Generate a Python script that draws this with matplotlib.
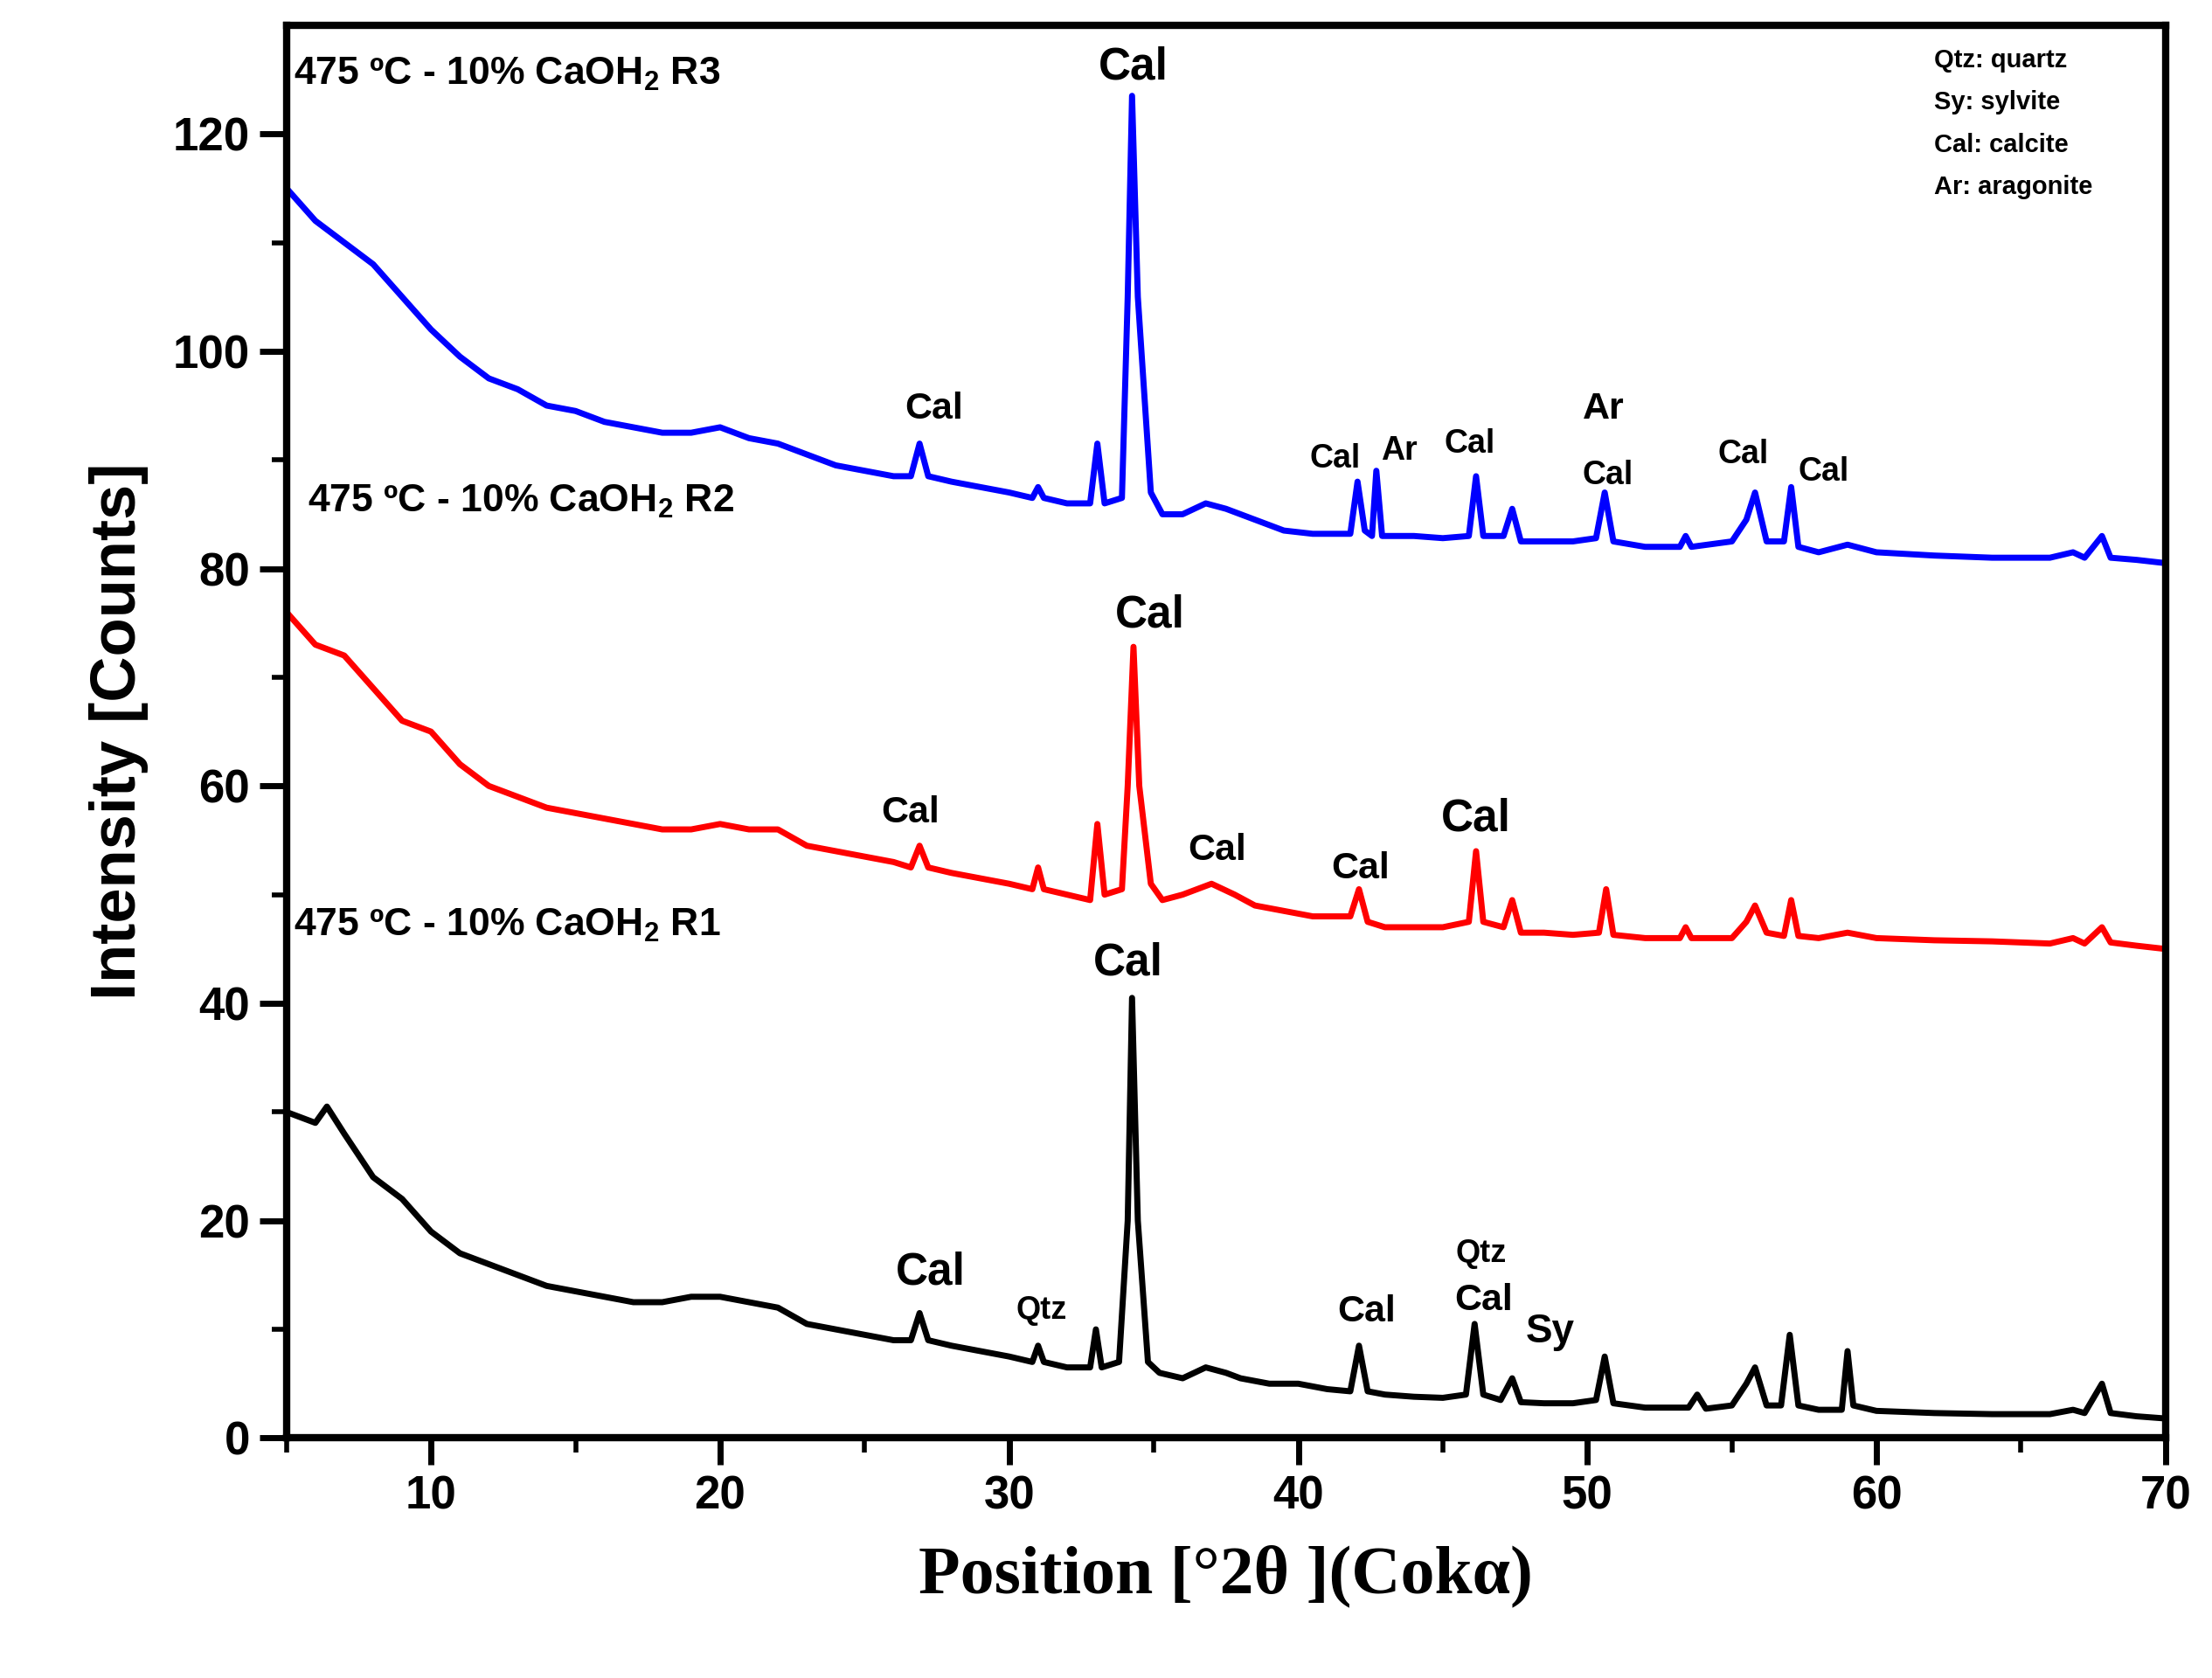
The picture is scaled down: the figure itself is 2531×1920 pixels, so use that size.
import matplotlib
matplotlib.use("Agg")
import matplotlib.pyplot as plt

plt.rcParams['font.family'] = 'Liberation Sans'
plt.rcParams['mathtext.fontset'] = 'custom'
plt.rcParams['mathtext.bf'] = 'Liberation Sans:bold'
plt.rcParams['mathtext.default'] = 'bf'

r1_x = [5,6,6.4,7,8,9,10,11,12,13,14,15,16,17,18,19,20,21,22,23,24,25,26,26.6,26.9,27.2,28,29,30,30.8,31,31.2,32,32.8,33.0,33.2,33.8,34.1,34.25,34.45,34.8,35.2,36,36.8,37.5,38,39,40,41,41.8,42.1,42.4,43,44,45,45.8,46.1,46.4,47,47.4,47.7,48.5,49.5,50.3,50.6,50.9,52,53.5,53.8,54.1,55,55.5,55.8,56.2,56.7,57.0,57.3,58,58.8,59.0,59.2,60,62,64,66,66.8,67.2,67.8,68.1,69,70]
r1_y = [30,29,30.5,28,24,22,19,17,16,15,14,13.5,13,12.5,12.5,13,13,12.5,12,10.5,10,9.5,9,9,11.5,9,8.5,8,7.5,7,8.5,7,6.5,6.5,10,6.5,7,20,40.5,20,7,6,5.5,6.5,6,5.5,5,5,4.5,4.3,8.5,4.3,4,3.8,3.7,4,10.5,4,3.5,5.5,3.3,3.2,3.2,3.5,7.5,3.2,2.8,2.8,4,2.7,3,5,6.5,3,3,9.5,3,2.6,2.6,8,3,2.5,2.3,2.2,2.2,2.6,2.3,5,2.3,2,1.8]

r2_x = [5,6,7,8,9,10,11,12,13,14,15,16,17,18,19,20,21,22,23,24,25,26,26.6,26.9,27.2,28,29,30,30.8,31,31.2,32,32.8,33.05,33.3,33.9,34.1,34.3,34.5,34.9,35.3,36,37,37.8,38.5,39.5,40.5,41.8,42.1,42.4,43,44,45,45.9,46.15,46.4,47.1,47.4,47.7,48.5,49.5,50.4,50.65,50.9,52,53.2,53.4,53.6,55,55.5,55.8,56.2,56.8,57.05,57.3,58,59,60,62,64,66,66.8,67.2,67.8,68.1,69,70]
r2_y = [76,73,72,69,66,65,62,60,59,58,57.5,57,56.5,56,56,56.5,56,56,54.5,54,53.5,53,52.5,54.5,52.5,52,51.5,51,50.5,52.5,50.5,50,49.5,56.5,50,50.5,60,72.8,60,51,49.5,50,51,50,49,48.5,48,48,50.5,47.5,47,47,47,47.5,54,47.5,47,49.5,46.5,46.5,46.3,46.5,50.5,46.3,46,46,47,46,46,47.5,49,46.5,46.2,49.5,46.2,46,46.5,46,45.8,45.7,45.5,46,45.5,47,45.6,45.3,45]

r3_x = [5,6,7,8,9,10,11,12,13,14,15,16,17,18,19,20,21,22,23,24,25,26,26.6,26.9,27.2,28,29,30,30.8,31,31.2,32,32.8,33.05,33.3,33.9,34.1,34.25,34.45,34.9,35.3,36,36.8,37.5,38.5,39.5,40.5,41.8,42.05,42.3,42.55,42.7,42.9,44,45,45.9,46.15,46.4,47.1,47.4,47.7,48.5,49.5,50.3,50.6,50.9,52,53.2,53.4,53.6,55,55.5,55.8,56.2,56.8,57.05,57.3,58,59,60,62,64,66,66.8,67.2,67.8,68.1,69,70]
r3_y = [115,112,110,108,105,102,99.5,97.5,96.5,95,94.5,93.5,93,92.5,92.5,93,92,91.5,90.5,89.5,89,88.5,88.5,91.5,88.5,88,87.5,87,86.5,87.5,86.5,86,86,91.5,86,86.5,105,123.5,105,87,85,85,86,85.5,84.5,83.5,83.2,83.2,88,83.5,83,89,83,83,82.8,83,88.5,83,83,85.5,82.5,82.5,82.5,82.8,87,82.5,82,82,83,82,82.5,84.5,87,82.5,82.5,87.5,82,81.5,82.2,81.5,81.2,81,81,81.5,81,83,81,80.8,80.5]

# peak labels: (text, x, y, size)
peak_labels = [
    ("Cal", 34.30, 126.1, 37), ("Cal", 27.41, 94.7, 31), ("Cal", 41.28, 90.1, 27),
    ("Ar", 43.48, 90.8, 27), ("Cal", 45.92, 91.5, 27), ("Ar", 50.56, 94.7, 31),
    ("Cal", 50.70, 88.6, 27), ("Cal", 55.39, 90.5, 27), ("Cal", 58.17, 88.9, 27),
    ("Cal", 34.88, 75.7, 37), ("Cal", 26.58, 57.5, 31), ("Cal", 37.18, 54.1, 31),
    ("Cal", 42.16, 52.4, 31), ("Cal", 46.16, 57.0, 37),
    ("Cal", 34.10, 43.7, 37), ("Cal", 27.27, 15.2, 37), ("Qtz", 31.12, 11.7, 26),
    ("Cal", 42.35, 11.6, 31), ("Qtz", 46.31, 17.0, 26), ("Cal", 46.41, 12.7, 31),
    ("Sy", 48.70, 9.8, 33),
]
sample_labels = [
    (r"475 ºC - 10% CaOH$_\mathbf{2}$ R3", 5.24, 125.5),
    (r"475 ºC - 10% CaOH$_\mathbf{2}$ R2", 5.73, 86.2),
    (r"475 ºC - 10% CaOH$_\mathbf{2}$ R1", 5.24, 47.2),
]
legend_lines = ["Qtz: quartz", "Sy: sylvite", "Cal: calcite", "Ar: aragonite"]
legend_y = [126.8, 122.9, 119.0, 115.1]

fig = plt.figure(figsize=(25.31, 19.2), dpi=100)
ax = fig.add_axes([0.1295, 0.143, 0.8495, 0.842])
ax.plot(r1_x, r1_y, color='black', lw=5)
ax.plot(r2_x, r2_y, color='#ff0000', lw=5)
ax.plot(r3_x, r3_y, color='#0000ff', lw=5)

for t, x, y, s in peak_labels:
    ax.text(x, y, t, fontsize=s, fontweight='bold', ha='center', va='center')
for t, x, y in sample_labels:
    ax.text(x, y, t, fontsize=32, fontweight='bold', ha='left', va='center')
for t, y in zip(legend_lines, legend_y):
    ax.text(61.98, y, t, fontsize=21, fontweight='bold', ha='left', va='center')

ax.set_xlim(5, 70)
ax.set_ylim(0, 130)
ax.set_xticks([10, 20, 30, 40, 50, 60, 70])
ax.set_xticks([5, 15, 25, 35, 45, 55, 65], minor=True)
ax.set_yticks([0, 20, 40, 60, 80, 100, 120])
ax.set_yticks([10, 30, 50, 70, 90, 110], minor=True)
ax.tick_params(which='major', direction='out', length=22, width=5, labelsize=38, pad=8)
ax.tick_params(which='minor', direction='out', length=12, width=4)
for lab in ax.get_xticklabels() + ax.get_yticklabels():
    lab.set_fontweight('bold')
for sp in ax.spines.values():
    sp.set_linewidth(6)

ax.set_ylabel("Intensity [Counts]", fontsize=52, fontweight='bold', labelpad=20)
ax.set_xlabel("Position [°2θ ](Cokα)", fontsize=56, fontweight='bold',
              family='Liberation Serif', labelpad=22)

fig.savefig("out.png", dpi=100)
